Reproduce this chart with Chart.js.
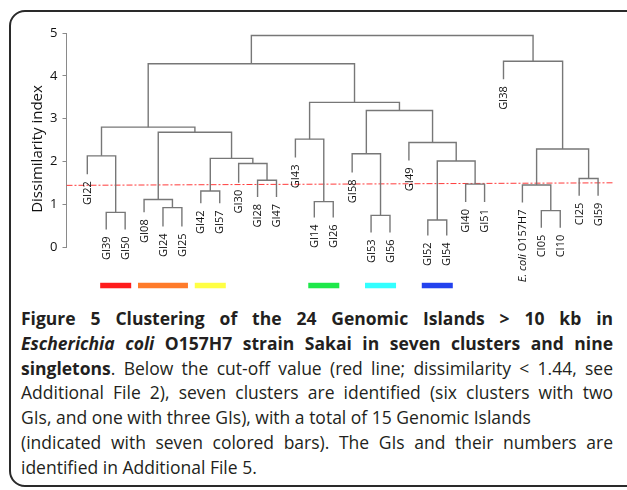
<!DOCTYPE html>
<html>
<head>
<meta charset="utf-8">
<script src="https://cdn.jsdelivr.net/npm/chart.js@4.4.0/dist/chart.umd.min.js"></script>
<style>
  html, body { margin: 0; padding: 0; background: #fff; }
  body { width: 627px; height: 490px; position: relative; overflow: hidden; font-family: "Open Sans", sans-serif; }
  #frame { position: absolute; left: 9px; top: 10px; width: 660px; height: 477px; border: 2px solid #2a2a2a; border-radius: 16px; box-sizing: border-box; }
  #chart { position: absolute; left: 0; top: 0; }
  #caption { position: absolute; left: 21px; top: 306px; width: 592px; color: #231f20; font-size: 17.5px; }
  #caption div { height: 24.8px; line-height: 24.8px; white-space: nowrap; text-align: justify; text-align-last: justify; }
  #caption div.l { text-align-last: left; }
  #caption b { font-size: 17.5px; }
</style>
</head>
<body>
<div id="frame"></div>
<canvas id="chart" width="627" height="300"></canvas>
<div id="caption">
  <div><b>Figure 5 Clustering of the 24 Genomic Islands &gt; 10 kb in</b></div>
  <div><b><i>Escherichia coli</i> O157H7 strain Sakai in seven clusters and nine</b></div>
  <div><b>singletons</b>. Below the cut-off value (red line; dissimilarity &lt; 1.44, see</div>
  <div>Additional File 2), seven clusters are identified (six clusters with two</div>
  <div class="l">GIs, and one with three GIs), with a total of 15 Genomic Islands</div>
  <div>(indicated with seven colored bars). The GIs and their numbers are</div>
  <div class="l">identified in Additional File 5.</div>
</div>
<script>
// ── Dendrogram data ───────────────────────────────────────
const leafLabels = ['GI22', 'GI39', 'GI50', 'GI08', 'GI24', 'GI25', 'GI42', 'GI57', 'GI30', 'GI28',
  'GI47', 'GI43', 'GI14', 'GI26', 'GI58', 'GI53', 'GI56', 'GI49', 'GI52', 'GI54',
  'GI40', 'GI51', 'GI38', 'E. coli O157H7', 'CI05', 'CI10', 'CI25', 'GI59'];
// height where each leaf's stem stops (label hangs below it)
const leafEnds = [1.70, 0.41, 0.41, 0.81, 0.48, 0.48, 1.02, 1.02, 1.50, 1.17,
  1.17, 2.09, 0.69, 0.69, 1.74, 0.34, 0.34, 2.02, 0.27, 0.27,
  1.05, 1.05, 3.92, 1.04, 0.45, 0.45, 1.20, 1.20];

// merges: child < 28 is a leaf, otherwise merge number (child - 28)
const mergeLeft    = [1, 0, 4, 3, 6, 9, 8, 32, 31, 29, 12, 11, 15, 14, 18, 20, 42, 17, 41, 39, 37, 24, 23, 26, 50, 22, 48];
const mergeRight   = [2, 28, 5, 30, 7, 10, 33, 34, 35, 36, 13, 38, 16, 40, 19, 21, 43, 44, 45, 46, 47, 25, 49, 27, 51, 52, 53];
const mergeHeights = [0.81, 2.13, 0.92, 1.11, 1.31, 1.56, 1.95, 2.07, 2.68, 2.80, 1.06, 2.52, 0.74, 2.18,
  0.63, 1.47, 2.01, 2.44, 3.19, 3.38, 4.28, 0.85, 1.45, 1.60, 2.29, 4.34, 4.94];

const cutOffLeft  = 1.44;
const cutOffRight = 1.50;

// seven colored cluster bars (first and last leaf)
const clusterFirst  = [1, 3, 6, 12, 15, 18];
const clusterLast   = [2, 5, 7, 13, 16, 19];
const clusterColors = ['#ff1c1c', '#ff7b2a', '#ffff44', '#1ee84a', '#33ffff', '#2342ee'];

const yTicks = [0, 1, 2, 3, 4, 5];
const yTitle = 'Dissimilarity index';

// ── Build datasets ────────────────────────────────────────
const nLeaves = leafLabels.length;
const nodeX = [], nodeH = [];
for (let i = 0; i < nLeaves; i++) { nodeX.push(i); nodeH.push(leafEnds[i]); }

const datasets = [];
mergeHeights.forEach(function(h, k) {
  const l = mergeLeft[k], r = mergeRight[k];
  nodeX.push((nodeX[l] + nodeX[r]) / 2);
  nodeH.push(h);
  datasets.push({
    data: [
      { x: nodeX[l], y: nodeH[l] },
      { x: nodeX[l], y: h },
      { x: nodeX[r], y: h },
      { x: nodeX[r], y: nodeH[r] },
    ],
    showLine: true,
    borderColor: '#777777',
    borderWidth: 1.4,
    pointRadius: 0,
  });
});

const X_MIN = -1.1, X_MAX = 28.0;

datasets.push({
  data: [{ x: X_MIN, y: cutOffLeft }, { x: 27.8, y: cutOffRight }],
  showLine: true,
  borderColor: '#ff3b3b',
  borderWidth: 1,
  borderDash: [6, 2, 2, 2],
  pointRadius: 0,
});

clusterFirst.forEach(function(f, i) {
  datasets.push({
    data: [{ x: f - 0.32, y: -0.9 }, { x: clusterLast[i] + 0.32, y: -0.9 }],
    showLine: true,
    borderColor: clusterColors[i],
    borderWidth: 5.5,
    borderCapStyle: 'butt',
    pointRadius: 0,
    clip: false,
  });
});

// ── Leaf labels (rotated, hanging below stems) + axis title ──
const leafLabelPlugin = {
  id: 'leafLabels',
  afterDatasetsDraw: function(chart) {
    const ctx = chart.ctx, xs = chart.scales.x, ys = chart.scales.y;
    ctx.save();
    ctx.fillStyle = '#111';
    ctx.textAlign = 'right';
    ctx.textBaseline = 'middle';
    leafLabels.forEach(function(lab, i) {
      ctx.save();
      ctx.translate(xs.getPixelForValue(i), ys.getPixelForValue(leafEnds[i]) + 7);
      ctx.rotate(-Math.PI / 2);
      if (lab.indexOf('E. coli ') === 0) {
        const rest = lab.slice(7);
        ctx.font = '11px "Open Sans"';
        ctx.fillText(rest, 0, 0.5);
        const w = ctx.measureText(rest).width;
        ctx.font = 'italic 11px "Open Sans"';
        ctx.fillText('E. coli', -w, 0.5);
      } else {
        ctx.font = '11px "Open Sans"';
        ctx.fillText(lab, 0, 0.5);
      }
      ctx.restore();
    });

    // y axis title, sitting a little below the axis middle as in the figure
    ctx.save();
    ctx.translate(ys.left + 26, (ys.top + ys.bottom) / 2 + 9);
    ctx.rotate(-Math.PI / 2);
    ctx.textAlign = 'center';
    ctx.font = '15px "Open Sans"';
    ctx.fillText(yTitle, 0, 0);
    ctx.restore();
    ctx.restore();
  }
};

new Chart(document.getElementById('chart'), {
  type: 'scatter',
  data: { datasets: datasets },
  plugins: [leafLabelPlugin],
  options: {
    responsive: false,
    animation: false,
    layout: { padding: { left: 11.5, right: 10, top: 33, bottom: 53 } },
    plugins: { legend: { display: false }, tooltip: { enabled: false } },
    scales: {
      x: { type: 'linear', min: X_MIN, max: X_MAX, display: false },
      y: {
        min: 0,
        max: 5,
        afterBuildTicks: function(s) { s.ticks = yTicks.map(function(v) { return { value: v }; }); },
        afterFit: function(s) { s.width = 55; },
        ticks: { color: '#111', padding: 5, font: { family: 'Open Sans', size: 13 } },
        grid: { display: true, drawOnChartArea: false, tickLength: 4, color: '#8a8a8a' },
        border: { display: true, color: '#8a8a8a', width: 1 },
        title: { display: false },
      },
    },
  },
});
</script>
</body>
</html>
